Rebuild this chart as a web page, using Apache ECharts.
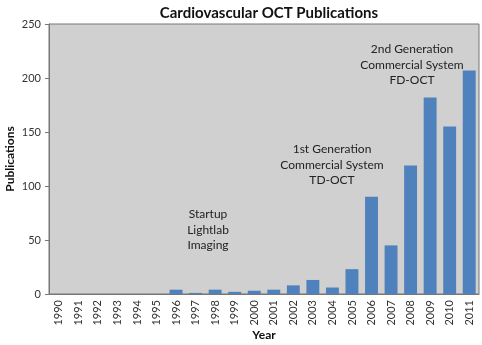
<!DOCTYPE html>
<html><head><meta charset="utf-8">
<script src="https://cdn.jsdelivr.net/npm/echarts@6/dist/echarts.min.js"></script>
<style>html,body{margin:0;padding:0;background:#fff}#c{width:482px;height:345px}</style>
</head><body><div id="c"></div>
<script>
const years = ['1990','1991','1992','1993','1994','1995','1996','1997','1998','1999','2000','2001','2002','2003','2004','2005','2006','2007','2008','2009','2010','2011'];
const publications = [0,0,0,0,0,0,4,1,4,2,3,4,8,13,6,23,90,45,119,182,155,207];
const yTicks = [0,50,100,150,200,250];
const annotationTexts = ['Startup\nLightlab\nImaging','1st Generation\nCommercial System\nTD-OCT','2nd Generation\nCommercial System\nFD-OCT'];
const FONT = 'Lato';

const chart = echarts.init(document.getElementById('c'));
const annPos = [[208,230],[332,165],[412,65]];
chart.setOption({
  animation:false,
  backgroundColor:'#fff',
  title:{text:'Cardiovascular OCT Publications',left:264,top:1,textAlign:'center',
    textStyle:{fontFamily:FONT,fontWeight:'bold',fontSize:15,color:'#111'}},
  grid:{left:49,top:24,right:3,bottom:51,containLabel:false,outerBoundsMode:'none',
    show:true,backgroundColor:'#d0d0d0',borderColor:'#777',borderWidth:1},
  xAxis:{type:'category',data:years,name:'Year',nameLocation:'middle',nameGap:35,nameMoveOverlap:false,
    nameTextStyle:{fontFamily:FONT,fontWeight:'bold',fontSize:12,color:'#111'},
    axisLine:{lineStyle:{color:'#777'}},axisTick:{show:false},
    axisLabel:{rotate:90,fontFamily:FONT,fontSize:11,color:'#333',margin:6,interval:0}},
  yAxis:{type:'value',min:0,max:250,interval:50,name:'Publications',nameLocation:'middle',nameGap:33,nameMoveOverlap:false,
    nameTextStyle:{fontFamily:FONT,fontWeight:'bold',fontSize:12,color:'#111'},
    axisLine:{show:true,lineStyle:{color:'#777'}},axisTick:{show:true,length:4,lineStyle:{color:'#777'}},
    splitLine:{show:false},
    axisLabel:{fontFamily:FONT,fontSize:11,color:'#333',margin:8,
      formatter:v=>yTicks.includes(v)?String(v):''}},
  series:[{type:'bar',data:publications,barCategoryGap:'34%',
    itemStyle:{color:'#4f81bd'}}],
  graphic:annotationTexts.map((t,i)=>({type:'text',x:annPos[i][0],y:annPos[i][1],
    style:{text:t,fill:'#222',font:'12px '+FONT,align:'center',verticalAlign:'middle',lineHeight:15.5}}))
});
</script></body></html>
